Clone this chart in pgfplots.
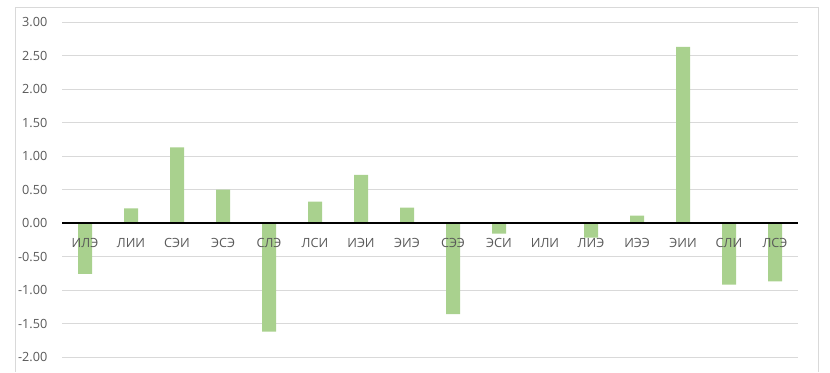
\documentclass[border=0pt]{standalone}
\usepackage{fontspec}
\setmainfont{Open Sans}
\usepackage{pgfplots}
\pgfplotsset{compat=1.18}
\definecolor{barg}{RGB}{169,209,142}
\definecolor{gridg}{RGB}{217,217,217}
\definecolor{txtg}{RGB}{89,89,89}
\begin{document}
\begin{tikzpicture}
\path (0,0) rectangle (622.5pt,279pt);
\draw[gridg, line width=0.75pt] (11.25pt,0pt) -- (11.25pt,273pt) -- (613.5pt,273pt) -- (613.5pt,0pt);
\begin{axis}[
  set layers=standard,
  at={(46.5pt,11.25pt)}, anchor=south west,
  scale only axis, width=552pt, height=251.25pt,
  xmin=-0.5, xmax=15.5, ymin=-2, ymax=3,
  ytick={-2,-1.5,...,3},
  xtick={0,...,15},
  xticklabels={ИЛЭ,ЛИИ,СЭИ,ЭСЭ,СЛЭ,ЛСИ,ИЭИ,ЭИЭ,СЭЭ,ЭСИ,ИЛИ,ЛИЭ,ИЭЭ,ЭИИ,СЛИ,ЛСЭ},
  axis line style={draw=none},
  major tick length=0pt,
  ymajorgrids, grid style={gridg, line width=0.75pt},
  /pgf/number format/assume math mode=true,
  yticklabel={\pgfmathprintnumber[fixed,fixed zerofill,precision=2]{\tick}},
  ticklabel style={font=\fontsize{9.5}{11}\selectfont, text=txtg},
  xticklabel style={yshift=92.25pt},
  yticklabel style={xshift=-7.5pt},
  ybar, bar width=10.5pt,
]
\addplot[fill=barg, draw=none, on layer=axis ticks] coordinates {
(0,-0.76) (1,0.22) (2,1.13) (3,0.50) (4,-1.62) (5,0.32) (6,0.72) (7,0.23)
(8,-1.36) (9,-0.16) (10,0.01) (11,-0.22) (12,0.11) (13,2.63) (14,-0.92) (15,-0.87)
};
\draw[black, line width=0.9pt] (axis cs:-0.5,0) -- (axis cs:15.5,0);
\end{axis}
\end{tikzpicture}
\end{document}
